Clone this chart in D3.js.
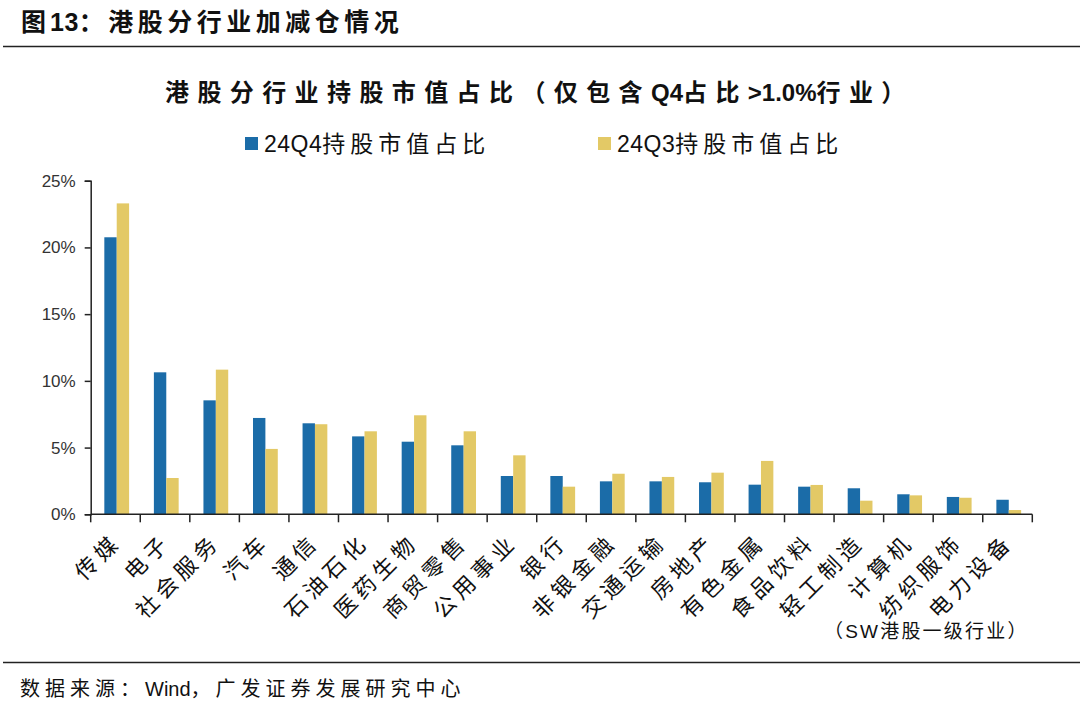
<!DOCTYPE html>
<html>
<head>
<meta charset="utf-8">
<script src="https://cdn.jsdelivr.net/npm/d3@7"></script>
<style>
  body { margin: 0; background: #fff; }
  svg text { font-family: "Liberation Sans", Arial, "Noto Sans CJK SC", sans-serif; }
</style>
</head>
<body>
<script>
// data
let categories = ["传媒","电子","社会服务","汽车","通信","石油石化","医药生物","商贸零售","公用事业","银行",
  "非银金融","交通运输","房地产","有色金属","食品饮料","轻工制造","计算机","纺织服饰","电力设备"]
let q4Values = [20.76,10.64,8.54,7.22,6.82,5.84,5.44,5.17,2.87,2.87,2.47,2.47,2.40,2.22,2.07,1.95,1.50,1.30,1.09]
let q3Values = [23.30,2.72,10.84,4.90,6.75,6.22,7.42,6.22,4.42,2.07,3.04,2.80,3.12,4.00,2.20,1.02,1.42,1.24,0.32]
let seriesNames = ["24Q4持股市值占比","24Q3持股市值占比"]
let yTicks = [0,5,10,15,20,25]

let W = 1080, H = 714
let blue = "#1b6ca8", yellow = "#e3c966"

let svg = d3.select("body").append("svg")
    .attr("width", W)
    .attr("height", H)

// spaced text helper: CJK runs get letter spacing, latin runs stay tight
let spaced = (sel, parts) => {
    parts.forEach(p => sel.append("tspan").attr("letter-spacing", p[1]).text(p[0]))
    return sel
}

// header
spaced(svg.append("text")
    .attr("x", 21).attr("y", 31)
    .attr("font-size", 25).attr("font-weight", "bold")
    .attr("fill", "#111"), [["图", 4], ["13", 0.5], ["：港股分行业加减仓情况", 4.5]])
svg.append("line")
    .attr("x1", 3).attr("x2", W).attr("y1", 46.5).attr("y2", 46.5)
    .attr("stroke", "#222").attr("stroke-width", 1.5)

// chart title
spaced(svg.append("text")
    .attr("x", 165).attr("y", 101)
    .attr("font-size", 24).attr("font-weight", "bold")
    .attr("fill", "#111"),
    [["港股分行业持股市值占比（仅包含", 8.4], ["Q4", 0], ["占比", 8.4], [">1.0%", 0], ["行业）", 8.4]])

// legend
let legend = svg.append("g")
let legendX = [245, 598]
seriesNames.forEach((name, i) => {
    legend.append("rect")
        .attr("x", legendX[i]).attr("y", 137)
        .attr("width", 13).attr("height", 13)
        .attr("fill", i == 0 ? blue : yellow)
    spaced(legend.append("text")
        .attr("x", legendX[i] + 19).attr("y", 152)
        .attr("font-size", 23)
        .attr("fill", "#111"), [[name.slice(0, 4), 0.5], [name.slice(4), 5]])
})

// scales
let x0 = d3.scaleBand()
    .domain(categories)
    .range([90.7, 1032.3])
let x1 = d3.scaleBand()
    .domain([0, 1])
    .range([0, x0.bandwidth()])
    .paddingOuter(1)
    .paddingInner(0)
    .align(0.55)
let y = d3.scaleLinear()
    .domain([0, 25])
    .range([514.3, 180.7])

// bars
let groups = svg.selectAll("g.cat")
    .data(categories)
    .enter()
    .append("g")
    .attr("class", "cat")
    .attr("transform", d => `translate(${x0(d)},0)`)

groups.selectAll("rect")
    .data((d, i) => [q4Values[i], q3Values[i]])
    .enter()
    .append("rect")
    .attr("x", (d, j) => x1(j))
    .attr("y", d => y(d))
    .attr("width", x1.bandwidth())
    .attr("height", d => y(0) - y(d))
    .attr("fill", (d, j) => j == 0 ? blue : yellow)

// y axis
let yAxis = svg.append("g")
    .attr("transform", "translate(90.7,0)")
    .call(d3.axisLeft(y).tickValues(yTicks).tickSize(6).tickFormat(d => d + "%"))
yAxis.select(".domain").attr("stroke", "#222").attr("stroke-width", 1.5)
yAxis.selectAll(".tick line").attr("stroke", "#222").attr("stroke-width", 1.5)
yAxis.selectAll(".tick text")
    .attr("font-size", 17).attr("fill", "#333")
    .attr("x", -15)
    .style("font-family", "Liberation Sans, Arial, sans-serif")

// x axis
let tickPos = categories.map(c => x0(c)).concat([x0.range()[1]])
let xAxis = svg.append("g")
xAxis.append("line")
    .attr("x1", x0.range()[0]).attr("x2", x0.range()[1])
    .attr("y1", y(0)).attr("y2", y(0))
    .attr("stroke", "#222").attr("stroke-width", 1.5)
xAxis.selectAll("line.tick")
    .data(tickPos)
    .enter()
    .append("line")
    .attr("class", "tick")
    .attr("x1", d => d).attr("x2", d => d)
    .attr("y1", y(0)).attr("y2", y(0) + 8)
    .attr("stroke", "#222").attr("stroke-width", 1.5)

svg.selectAll("text.xlabel")
    .data(categories)
    .enter()
    .append("text")
    .attr("class", "xlabel")
    .attr("text-anchor", "end")
    .attr("font-size", 22)
    .attr("letter-spacing", 5)
    .attr("fill", "#111")
    .attr("transform", d => `translate(${x0(d) + x0.bandwidth() / 2 + 7},${y(0) + 29}) rotate(-45)`)
    .text(d => d)

svg.append("text")
    .attr("x", 824).attr("y", 638)
    .attr("font-size", 19)
    .attr("letter-spacing", 2.2)
    .attr("fill", "#111")
    .text("（SW港股一级行业）")

// footer
svg.append("line")
    .attr("x1", 3).attr("x2", W).attr("y1", 662.5).attr("y2", 662.5)
    .attr("stroke", "#222").attr("stroke-width", 1.5)
spaced(svg.append("text")
    .attr("x", 20).attr("y", 696)
    .attr("font-size", 20)
    .attr("fill", "#111"), [["数据来源：", 5], ["Wind", 0], ["，广发证券发展研究中心", 5]])
</script>
</body>
</html>
